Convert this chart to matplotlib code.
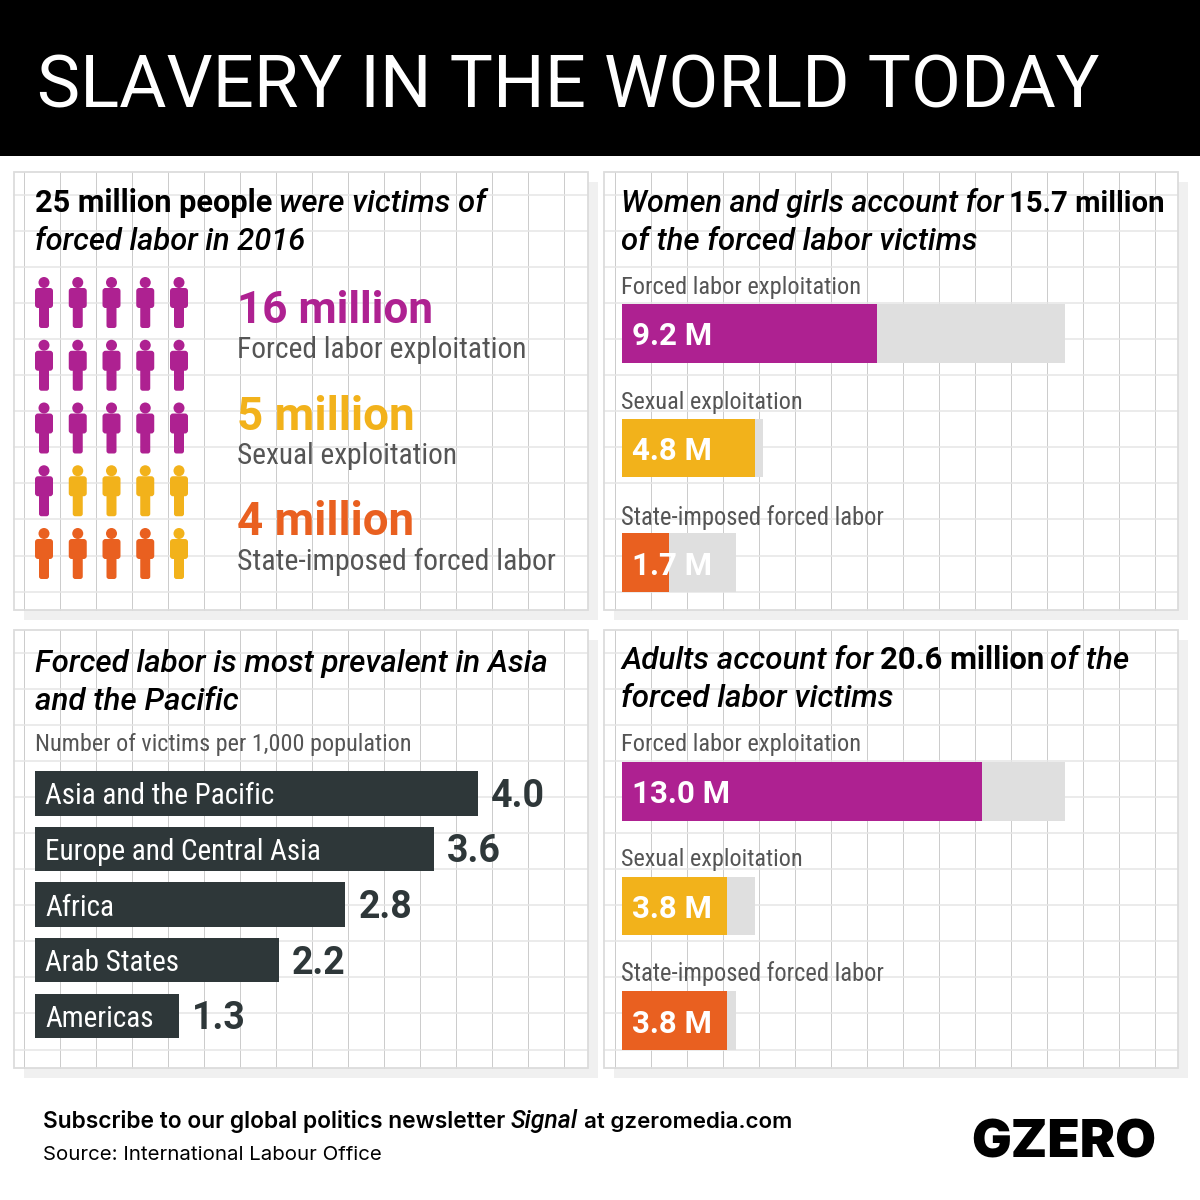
import matplotlib
matplotlib.use('Agg')
import matplotlib.pyplot as plt
from matplotlib.patches import Rectangle, Circle, FancyBboxPatch

# values
types = ['Forced labor exploitation', 'Sexual exploitation', 'State-imposed forced labor']
type_totals = [16, 5, 4]
women_values = [9.2, 4.8, 1.7]
women_tracks = [16, 5.1, 4.1]
adult_values = [13.0, 3.8, 3.8]
adult_tracks = [16, 4.8, 4.1]
regions = ['Asia and the Pacific', 'Europe and Central Asia', 'Africa', 'Arab States', 'Americas']
region_rates = [4.0, 3.6, 2.8, 2.2, 1.3]

PURPLE = '#ae2191'
YELLOW = '#f2b21b'
ORANGE = '#e96020'
TRACK = '#dfdfdf'
DARK = '#2e3739'
GREY = '#555555'
type_colors = [PURPLE, YELLOW, ORANGE]

HEAD = 'Roboto'
NARROW = ['Roboto Condensed', 'Liberation Sans Narrow', 'Roboto']
FOOT = 'Inter'

fig = plt.figure(figsize=(12, 12), dpi=100, facecolor='white')
bg = fig.add_axes([0, 0, 1, 1])
bg.set_xlim(0, 1200)
bg.set_ylim(1200, 0)
bg.axis('off')
renderer = fig.canvas.get_renderer()


def put(x, base, s, right, size=22, color='black', family=HEAD, weight='normal', style='normal'):
    # text on a pixel baseline, font size fitted to the width it has in the picture
    t = bg.text(x - 1, base, s, ha='left', va='baseline', fontsize=size, color=color,
                family=family, weight=weight, style=style)
    w = t.get_window_extent(renderer).width
    t.set_fontsize(size * (right - x + 1) / w)
    return t


def italic(x, base, s, right):
    return put(x, base, s, right, weight='medium', style='italic')


def panel(left, top, first_x, first_y):
    right, bottom = left + 574, top + 438
    bg.add_patch(Rectangle((left + 10, top + 10), 574, 438, fc='#f0f0f0', ec='none', zorder=1))
    bg.add_patch(Rectangle((left, top), 574, 438, fc='white', ec='none', zorder=2))
    x = first_x
    while x < right:
        bg.plot([x, x], [top, bottom], color='#cccccc', lw=0.72, zorder=3)
        x += 36
    y = first_y
    while y < bottom:
        bg.plot([left, right], [y, y], color='#e6e6e6', lw=1.1, zorder=3)
        y += 36.05
    bg.add_patch(Rectangle((left, top), 574, 438, fc='none', ec='#dcdcdc', lw=1.3, zorder=4))


def person(cx, top, color):
    bg.add_patch(Circle((cx, top + 5.5), 5.5, fc=color, ec='none', zorder=5))
    bg.add_patch(FancyBboxPatch((cx - 9, top + 11), 18, 20, boxstyle='round,pad=0,rounding_size=3',
                                fc=color, ec='none', zorder=5))
    bg.add_patch(FancyBboxPatch((cx - 5, top + 25), 10, 26, boxstyle='round,pad=0,rounding_size=2.5',
                                fc=color, ec='none', zorder=5))


def px_axes(left, top, right, bottom):
    ax = fig.add_axes([left / 1200, 1 - bottom / 1200, (right - left) / 1200, (bottom - top) / 1200])
    ax.axis('off')
    ax.patch.set_alpha(0)
    return ax


def exploitation_bars(top, values, tracks):
    ax = px_axes(622, top, 1065, top + 288)
    h = 0.511
    pos = range(len(values))
    ax.barh(pos, tracks, height=h, color=TRACK)
    ax.barh(pos, values, height=h, color=type_colors)
    ax.set_xlim(0, 16)
    ax.set_ylim(2 + h / 2, -h / 2)
    for i, v in enumerate(values):
        ax.annotate(f'{v:.1f} M', (0, i), xytext=(7.5, 0), textcoords='offset points', va='center_baseline',
                    color='white', fontsize=22.5, family=HEAD, weight='bold')


bg.add_patch(Rectangle((0, 0), 1200, 156, fc='black', ec='none'))
put(38, 107, 'SLAVERY IN THE WORLD TODAY', 1100, size=50, color='white')

panel(14, 172, 24, 195)
panel(604, 172, 615, 195)
panel(14, 630, 24, 653)
panel(604, 630, 615, 653)

# top left: 25 people, one per million
put(36, 212, '25 million people', 272, weight='bold')
italic(280, 212, 'were victims of', 486)
italic(36, 250, 'forced labor in 2016', 305)

people = [PURPLE] * type_totals[0] + [YELLOW] * (type_totals[1] - 1) + [ORANGE] * type_totals[2] + [YELLOW]
for n, c in enumerate(people):
    person(44 + 33.75 * (n % 5), 277 + 62.75 * (n // 5), c)

for i, (label, total) in enumerate(zip(types, type_totals)):
    base = [323, 430, 535][i]
    put(238, base, f'{total} million', [433, 414, 414][i], color=type_colors[i], weight='bold')
    put(238, 358 + 106 * i, label, [527, 457, 556][i], color=GREY, family=NARROW)

# top right
italic(622, 212, 'Women and girls account for', 1003)
put(1010, 212, '15.7 million', 1164, weight='bold')
italic(622, 250, 'of the forced labor victims', 977)
for i, label in enumerate(types):
    put(622, 294 + 115.5 * i, label, [860, 803, 884][i], color=GREY, family=NARROW)
exploitation_bars(304, women_values, women_tracks)

# bottom left
italic(36, 672, 'Forced labor is most prevalent in Asia', 547)
italic(36, 710, 'and the Pacific', 238)
put(36, 751, 'Number of victims per 1,000 population', 410, color=GREY, family=NARROW)

ax3 = px_axes(35, 771, 478, 1038)
ax3.barh(range(len(regions)), region_rates, height=0.8, color=DARK)
ax3.set_xlim(0, 4)
ax3.set_ylim(4.4, -0.4)
for i, (name, v) in enumerate(zip(regions, region_rates)):
    ax3.annotate(name, (0, i), xytext=(7.5, 0), textcoords='offset points', va='center_baseline',
                 color='white', fontsize=21, family=NARROW)
    ax3.annotate(f'{v:.1f}', (v, i), xytext=(9.5, 0.7), textcoords='offset points', va='center_baseline',
                 color=DARK, fontsize=27, family=HEAD, weight='bold', annotation_clip=False)

# bottom right
italic(622, 669, 'Adults account for', 873)
put(881, 669, '20.6 million', 1044, weight='bold')
italic(1051, 669, 'of the', 1129)
italic(622, 707, 'forced labor victims', 893)
for i, label in enumerate(types):
    put(622, 751 + 115 * i, label, [860, 803, 884][i], color=GREY, family=NARROW)
exploitation_bars(762, adult_values, adult_tracks)

# footer
put(44, 1128, 'Subscribe to our global politics newsletter', 505, family=FOOT, weight='semibold')
put(512, 1128, 'Signal', 578, family=HEAD, weight='medium', style='italic')
put(585, 1128, 'at gzeromedia.com', 792, family=FOOT, weight='semibold')
put(44, 1160, 'Source: International Labour Office', 381, family=FOOT)
put(972, 1158, 'GZERO', 1156, size=40, family=FOOT, weight='black')

fig.savefig('out.png', dpi=100)
